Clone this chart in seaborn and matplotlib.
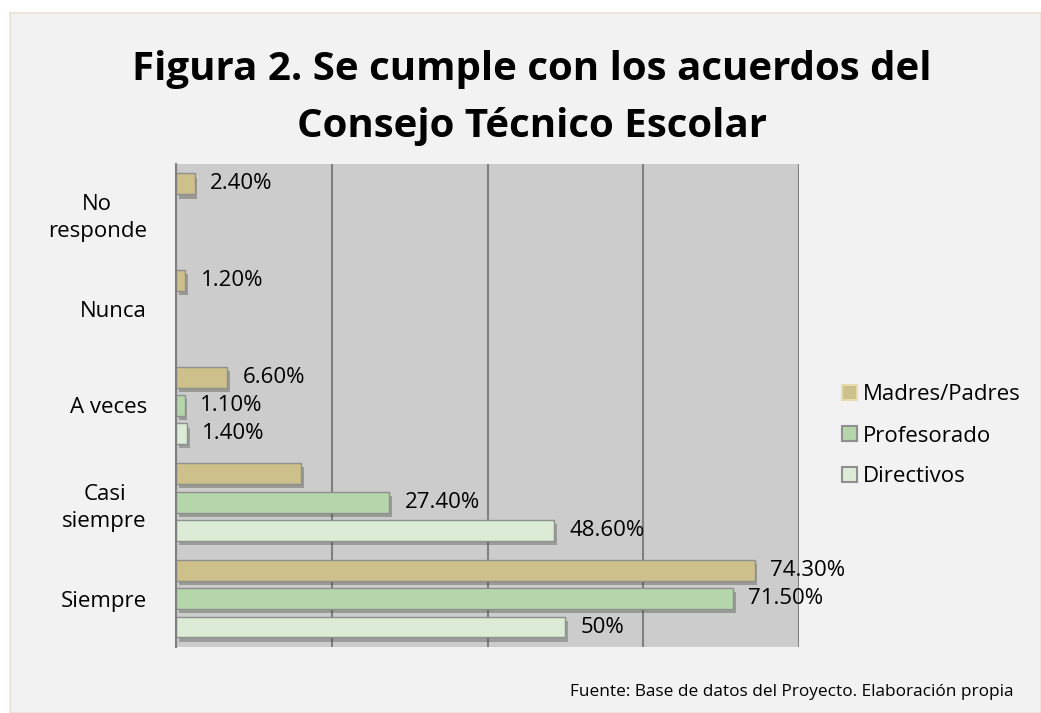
import pandas as pd
import seaborn as sns
import matplotlib.pyplot as plt
import matplotlib.patheffects as pe
from matplotlib.patches import Rectangle, Patch

# data
categories = ['No\nresponde', 'Nunca', 'A veces', 'Casi\nsiempre', 'Siempre']
groups = ['Madres/Padres', 'Profesorado', 'Directivos']
madres = [2.4, 1.2, 6.6, 16.1, 74.3]
profesorado = [0, 0, 1.1, 27.4, 71.5]
directivos = [0, 0, 1.4, 48.6, 50.0]
madres_labels = ['2.40%', '1.20%', '6.60%', '', '74.30%']
profesorado_labels = ['', '', '1.10%', '27.40%', '71.50%']
directivos_labels = ['', '', '1.40%', '48.60%', '50%']
colors = ['#cdc08b', '#b5d6ab', '#dcebd5']
legend_edges = ['#e6dcae', '#8f8f8f', '#8f8f8f']

title_1 = 'Figura 2. Se cumple con los acuerdos del'
title_2 = 'Consejo Técnico Escolar'
source = 'Fuente: Base de datos del Proyecto. Elaboración propia'

# long format table for seaborn
data = pd.DataFrame({
    'Categoria': categories * 3,
    'Grupo': [groups[0]] * 5 + [groups[1]] * 5 + [groups[2]] * 5,
    'Valor': madres + profesorado + directivos,
})

sns.set_style('white')
plt.rcParams['font.family'] = ['Open Sans', 'DejaVu Sans']
plt.rcParams['text.color'] = 'black'
plt.rcParams['ytick.color'] = 'black'

fig = plt.figure(figsize=(10.41, 7.13), dpi=100)
fig.patch.set_facecolor('white')
fig.patches.append(Rectangle((10 / 1041, 0), 1 - 10 / 1041, 1 - 13 / 713,
                             transform=fig.transFigure, facecolor='#f2f2f2',
                             edgecolor='#ece2d4', linewidth=1.2, zorder=-10))

ax = fig.add_axes([0.1691, 0.0926, 0.5984, 0.6774])
ax.set_facecolor('#cccccc')

sns.barplot(data=data, x='Valor', y='Categoria', hue='Grupo', order=categories,
            hue_order=groups, palette=colors, saturation=1, width=0.88, gap=0.26,
            edgecolor='#8f8f8f', linewidth=1, ax=ax, legend=False)

shadow = [pe.SimplePatchShadow(offset=(2, -3), alpha=0.35), pe.Normal()]
for p in ax.patches:
    if p.get_width() == 0:
        p.set_visible(False)
    else:
        p.set_path_effects(shadow)

all_labels = [madres_labels, profesorado_labels, directivos_labels]
for cont, labs in zip(ax.containers, all_labels):
    ax.bar_label(cont, labels=labs, padding=11, fontsize=16, color='black')

ax.set_xlim(0, 80)
ax.set_ylim(4.5, -0.5)
ax.set_xticks([0, 20, 40, 60, 80])
ax.set_xticklabels([])
ax.grid(axis='x', color='#808080', linewidth=1.5)
ax.grid(axis='y', visible=False)
ax.set_axisbelow(True)
ax.tick_params(axis='both', length=0)
ax.tick_params(axis='y', pad=21, labelsize=16, labelcolor='black')
for t in ax.get_yticklabels():
    t.set_multialignment('center')
    t.set_linespacing(1.4)
ax.set_xlabel('')
ax.set_ylabel('')
for s in ['top', 'bottom', 'right']:
    ax.spines[s].set_visible(False)
ax.spines['left'].set_color('#808080')
ax.spines['left'].set_linewidth(1.5)

handles = [Patch(facecolor=c, edgecolor=e, linewidth=1.5) for c, e in zip(colors, legend_edges)]
ax.legend(handles, groups, loc='center left', bbox_to_anchor=(831 / 1041, 1 - 436 / 713),
          bbox_transform=fig.transFigure, frameon=False, fontsize=16,
          handlelength=0.65, handleheight=0.65, handletextpad=0.3,
          labelspacing=0.9, borderpad=0)

fig.text(0.511, 1 - 80 / 713, title_1, ha='center', va='baseline',
         fontsize=29, fontweight='bold')
fig.text(0.511, 1 - 137 / 713, title_2, ha='center', va='baseline',
         fontsize=29, fontweight='bold')
fig.text(1013 / 1041, 1 - 696 / 713, source, ha='right', va='baseline', fontsize=12.4)

plt.savefig('out.png', dpi=100)
